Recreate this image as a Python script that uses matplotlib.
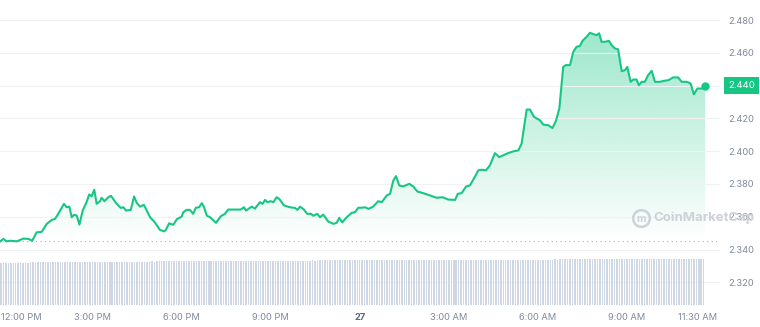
import numpy as np
import matplotlib
matplotlib.use("Agg")
import matplotlib.pyplot as plt
import matplotlib.transforms as mtransforms

# hours after 12:00 PM (26th) and price in USD
hours = [
    -0.11, 0.00, 0.11, 0.22, 0.45, 0.67, 0.84, 0.97, 1.12, 1.29,
    1.46, 1.63, 1.74, 1.88, 2.04, 2.13, 2.22, 2.30, 2.38, 2.47,
    2.56, 2.67, 2.80, 2.89, 2.97, 3.06, 3.14, 3.25, 3.31, 3.40,
    3.53, 3.62, 3.79, 3.95, 4.04, 4.13, 4.29, 4.40, 4.49, 4.60,
    4.73, 4.94, 5.10, 5.27, 5.41, 5.47, 5.58, 5.72, 5.84, 6.00,
    6.06, 6.17, 6.28, 6.39, 6.48, 6.59, 6.68, 6.75, 6.85, 6.96,
    7.16, 7.32, 7.46, 7.57, 7.74, 7.99, 8.10, 8.17, 8.36, 8.47,
    8.64, 8.73, 8.81, 8.89, 9.00, 9.09, 9.20, 9.29, 9.45, 9.65,
    9.82, 9.90, 9.99, 10.12, 10.23, 10.36, 10.43, 10.57, 10.66, 10.77,
    10.94, 11.11, 11.22, 11.31, 11.41, 11.56, 11.73, 11.84, 11.95, 12.06,
    12.18, 12.29, 12.34, 12.45, 12.62, 12.74, 12.91, 13.02, 13.13, 13.22,
    13.33, 13.46, 13.67, 13.80, 13.94, 14.14, 14.36, 14.59, 14.79, 14.98,
    15.21, 15.30, 15.43, 15.58, 15.71, 15.87, 15.99, 16.11, 16.25, 16.38,
    16.55, 16.70, 16.95, 17.17, 17.34, 17.45, 17.62, 17.73, 17.87, 18.07,
    18.18, 18.35, 18.49, 18.61, 18.72, 18.85, 18.94, 19.08, 19.19, 19.30,
    19.41, 19.50, 19.64, 19.75, 19.86, 19.98, 20.06, 20.14, 20.26, 20.39,
    20.48, 20.59, 20.70, 20.82, 20.93, 21.01, 21.12, 21.21, 21.32, 21.40,
    21.49, 21.60, 21.71, 21.83, 21.94, 22.11, 22.24, 22.39, 22.56, 22.72,
    22.84, 23.01, 23.14, 23.25, 23.37, 23.54, 23.63,
]
prices = [
    2.3450, 2.3465, 2.3450, 2.3454, 2.3450, 2.3467, 2.3465, 2.3454, 2.3505, 2.3508,
    2.3557, 2.3581, 2.3587, 2.3628, 2.3679, 2.3658, 2.3662, 2.3597, 2.3612, 2.3607,
    2.3552, 2.3638, 2.3689, 2.3736, 2.3725, 2.3765, 2.3679, 2.3695, 2.3716, 2.3695,
    2.3719, 2.3728, 2.3685, 2.3654, 2.3658, 2.3638, 2.3642, 2.3724, 2.3685, 2.3662,
    2.3673, 2.3597, 2.3566, 2.3520, 2.3511, 2.3520, 2.3560, 2.3551, 2.3585, 2.3601,
    2.3628, 2.3642, 2.3642, 2.3618, 2.3655, 2.3658, 2.3683, 2.3662, 2.3607, 2.3597,
    2.3563, 2.3603, 2.3618, 2.3644, 2.3644, 2.3644, 2.3658, 2.3638, 2.3662, 2.3650,
    2.3689, 2.3679, 2.3703, 2.3689, 2.3695, 2.3689, 2.3719, 2.3709, 2.3669, 2.3658,
    2.3654, 2.3642, 2.3662, 2.3644, 2.3618, 2.3618, 2.3606, 2.3618, 2.3597, 2.3613,
    2.3571, 2.3557, 2.3563, 2.3593, 2.3566, 2.3597, 2.3624, 2.3628, 2.3655, 2.3655,
    2.3658, 2.3648, 2.3652, 2.3662, 2.3695, 2.3689, 2.3730, 2.3740, 2.3821, 2.3848,
    2.3791, 2.3785, 2.3801, 2.3785, 2.3754, 2.3744, 2.3730, 2.3716, 2.3719, 2.3705,
    2.3703, 2.3740, 2.3744, 2.3785, 2.3791, 2.3842, 2.3883, 2.3887, 2.3883, 2.3913,
    2.3988, 2.3964, 2.3985, 2.3999, 2.4005, 2.4046, 2.4254, 2.4254, 2.4209, 2.4188,
    2.4162, 2.4158, 2.4141, 2.4188, 2.4260, 2.4514, 2.4525, 2.4525, 2.4606, 2.4637,
    2.4641, 2.4673, 2.4698, 2.4722, 2.4714, 2.4708, 2.4719, 2.4667, 2.4667, 2.4673,
    2.4647, 2.4627, 2.4621, 2.4488, 2.4494, 2.4514, 2.4423, 2.4437, 2.4437, 2.4402,
    2.4423, 2.4423, 2.4464, 2.4490, 2.4423, 2.4423, 2.4429, 2.4433, 2.4450, 2.4450,
    2.4423, 2.4423, 2.4413, 2.4347, 2.4382, 2.4382, 2.4400,
]
open_price = 2.345

# 5-minute volume bars (billions), one row per two hours
volume = [
    4.17, 4.17, 4.18, 4.17, 4.18, 4.18, 4.18, 4.19, 4.19, 4.18, 4.19, 4.19, 4.20, 4.20, 4.19, 4.20, 4.20, 4.21, 4.20, 4.21, 4.21, 4.21, 4.22, 4.21,
    4.22, 4.22, 4.22, 4.23, 4.22, 4.23, 4.23, 4.23, 4.24, 4.23, 4.24, 4.24, 4.24, 4.25, 4.24, 4.25, 4.25, 4.25, 4.26, 4.25, 4.26, 4.26, 4.26, 4.27,
    4.27, 4.27, 4.27, 4.28, 4.27, 4.28, 4.28, 4.28, 4.29, 4.28, 4.29, 4.29, 4.29, 4.30, 4.29, 4.30, 4.30, 4.30, 4.31, 4.30, 4.31, 4.31, 4.31, 4.31,
    4.32, 4.31, 4.32, 4.32, 4.32, 4.33, 4.32, 4.33, 4.33, 4.33, 4.33, 4.34, 4.33, 4.34, 4.34, 4.34, 4.34, 4.35, 4.34, 4.35, 4.35, 4.35, 4.35, 4.35,
    4.36, 4.35, 4.36, 4.36, 4.36, 4.36, 4.37, 4.36, 4.37, 4.37, 4.37, 4.37, 4.37, 4.38, 4.37, 4.38, 4.38, 4.38, 4.38, 4.38, 4.38, 4.39, 4.38, 4.39,
    4.39, 4.39, 4.39, 4.39, 4.39, 4.39, 4.40, 4.39, 4.40, 4.40, 4.40, 4.40, 4.40, 4.40, 4.40, 4.41, 4.40, 4.41, 4.41, 4.41, 4.41, 4.41, 4.41, 4.41,
    4.41, 4.42, 4.41, 4.42, 4.42, 4.42, 4.42, 4.42, 4.42, 4.42, 4.43, 4.42, 4.43, 4.43, 4.43, 4.43, 4.43, 4.43, 4.43, 4.43, 4.44, 4.43, 4.44, 4.44,
    4.44, 4.44, 4.44, 4.44, 4.44, 4.44, 4.45, 4.44, 4.45, 4.45, 4.45, 4.45, 4.45, 4.45, 4.45, 4.45, 4.46, 4.45, 4.46, 4.46, 4.46, 4.46, 4.46, 4.46,
    4.46, 4.47, 4.46, 4.47, 4.47, 4.47, 4.47, 4.47, 4.47, 4.47, 4.47, 4.48, 4.47, 4.48, 4.48, 4.48, 4.48, 4.48, 4.48, 4.48, 4.48, 4.48, 4.49, 4.48,
    4.49, 4.49, 4.49, 4.49, 4.49, 4.49, 4.49, 4.49, 4.50, 4.49, 4.50, 4.50, 4.50, 4.50, 4.50, 4.50, 4.50, 4.50, 4.50, 4.50, 4.51, 4.50, 4.51, 4.51,
    4.51, 4.51, 4.51, 4.51, 4.51, 4.51, 4.51, 4.51, 4.51, 4.52, 4.51, 4.52, 4.52, 4.52, 4.52, 4.52, 4.52, 4.52, 4.52, 4.52, 4.52, 4.52, 4.52, 4.53,
    4.53, 4.53, 4.53, 4.53, 4.53, 4.53, 4.53, 4.53, 4.53, 4.53, 4.53, 4.53, 4.53, 4.53, 4.53, 4.53, 4.53, 4.53, 4.53, 4.53, 4.53,
]

price_ticks = [2.32, 2.34, 2.36, 2.38, 2.40, 2.42, 2.44, 2.46, 2.48]
time_ticks = [0, 3, 6, 9, 12, 15, 18, 21, 23.5]
time_labels = ["12:00 PM", "3:00 PM", "6:00 PM", "9:00 PM", "27",
               "3:00 AM", "6:00 AM", "9:00 AM", "11:30 AM"]

assert len(hours) == len(prices)

GREEN = "#16c784"
GREY = "#808a9d"
WM = "#cdd1d8"
plt.rcParams["font.family"] = ["Inter", "DejaVu Sans"]

fig = plt.figure(figsize=(7.6, 3.27), dpi=100)
rect = [0.0, 22 / 327, 720 / 760, 305 / 327]
ax = fig.add_axes(rect)
vax = fig.add_axes(rect, zorder=2)
vax.patch.set_alpha(0)

xlim = (-0.1145, 24.13)
ylim = (2.3062, 2.4922)

# price axes
for s in ax.spines.values():
    s.set_visible(False)
ax.yaxis.tick_right()
ax.set_yticks(price_ticks)
ax.set_yticklabels([("" if abs(v - prices[-1]) < 1e-9 else f"{v:.3f}") for v in price_ticks])
ax.tick_params(axis="y", length=0, pad=6, labelsize=6.7, labelcolor=GREY)
ax.grid(axis="y", color="#eff2f5", lw=0.8)
ax.set_xticks(time_ticks)
ax.set_xticklabels(time_labels)
ax.tick_params(axis="x", length=0, pad=6, labelsize=6.7, labelcolor=GREY)
for i, lab in enumerate(ax.get_xticklabels()):
    if lab.get_text() == "27":
        lab.set_fontweight("bold")
        lab.set_color("#58667e")
    if i == 0:
        lab.set_horizontalalignment("left")
        lab.set_transform(lab.get_transform() + mtransforms.ScaledTranslation(-2 / 72, 0, fig.dpi_scale_trans))
    if i == len(time_labels) - 1:
        lab.set_transform(lab.get_transform() + mtransforms.ScaledTranslation(-3 / 72, 0, fig.dpi_scale_trans))

# gradient fill between line and opening price
poly = ax.fill_between(hours, prices, open_price, color="none", lw=0)
grad = np.zeros((256, 1, 4))
grad[:, 0, :3] = matplotlib.colors.to_rgb(GREEN)
grad[:, 0, 3] = np.linspace(0.0, 0.42, 256)
im = ax.imshow(grad, extent=[xlim[0], xlim[1], open_price, max(prices)],
               origin="lower", aspect="auto", zorder=1, interpolation="bilinear")
im.set_clip_path(poly.get_paths()[0], transform=ax.transData)
ax.set_xlim(*xlim)
ax.set_ylim(*ylim)

ax.axhline(open_price, color="#a6b0c3", lw=0.8, ls=(0, (1, 3)), zorder=2)
ax.plot(hours, prices, color=GREEN, lw=1.5, zorder=3, solid_joinstyle="round")
ax.plot(hours[-1], prices[-1], "o", color=GREEN, ms=5, zorder=4)

# current price tag
trans = mtransforms.blended_transform_factory(ax.transAxes, ax.transData)
ax.text(1.0 + 8 / 720, prices[-1], f"{prices[-1]:.3f}", transform=trans,
        ha="left", va="center", color="white", fontsize=6.9,
        bbox=dict(boxstyle="square,pad=0.45", fc=GREEN, ec="none"),
        clip_on=False, zorder=5)

# watermark: circled logo plus name
ax.plot([0.89], [0.285], "o", transform=ax.transAxes, ms=12, mfc="none",
        mec=WM, mew=1.8, zorder=2, clip_on=False)
ax.text(0.89, 0.283, "m", transform=ax.transAxes, ha="center", va="center",
        fontsize=7.5, fontweight="bold", color=WM, zorder=2, clip_on=False)
ax.text(0.907, 0.285, "CoinMarketCap", transform=ax.transAxes, ha="left", va="center",
        fontsize=9.5, fontweight="bold", color=WM, zorder=2, clip_on=False)

# volume bars
vol_t = -0.11 + np.arange(len(volume)) / 12
vax.bar(vol_t, volume, width=0.6 / 12, align="edge", color="#cfd6e4", lw=0)
vax.set_xlim(*xlim)
vax.set_ylim(0, 30.1)
vax.axis("off")

fig.savefig("out.png", dpi=100)
